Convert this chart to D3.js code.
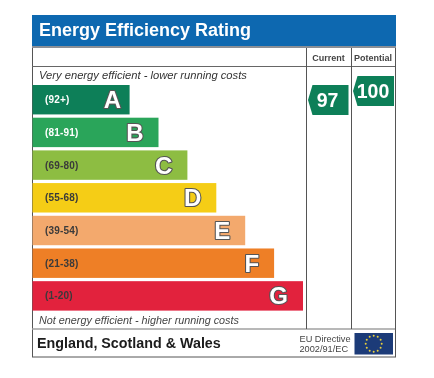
<!DOCTYPE html>
<html><head><meta charset="utf-8">
<script src="https://cdn.jsdelivr.net/npm/d3@7"></script>
<style>html,body{margin:0;padding:0;background:#fff}svg{display:block}text{font-family:"Liberation Sans",Arial,sans-serif}</style>
</head><body><svg id="c" width="434" height="378"></svg>
<script>
const bandLabels = ["(92+)","(81-91)","(69-80)","(55-68)","(39-54)","(21-38)","(1-20)"];
const bandLetters = ["A","B","C","D","E","F","G"];
const bandLengths = [1,2,3,4,5,6,7];
const bandColors = ["#0f7f58","#2ba55a","#8dbd43","#f5cd14","#f3a96d","#ee7f26","#e2213e"];
const labelColors = ["#fff","#fff","#3a3a3a","#3a3a3a","#3a3a3a","#3a3a3a","#3a3a3a"];
const scoreNames = ["Current","Potential"];
const scoreValues = [97,100];
const euStars = d3.range(12);

const svg = d3.select("#c");
const g = svg.append("g").attr("filter","url(#soft)");
svg.append("defs").append("filter").attr("id","soft").attr("x","-5%").attr("y","-5%").attr("width","110%").attr("height","110%")
  .append("feGaussianBlur").attr("stdDeviation",0.4);

const L=32,R=395,T=46,B=357,C1=306,C2=351;
const x = d3.scaleLinear().domain([1,7]).range([129.6,303]);
const y = d3.scaleBand().domain(bandLetters).range([85,310.6]).paddingInner(0.1).paddingOuter(0);
const yScore = d3.scaleLinear().domain([97,100]).range([100,91]);

// frame
g.append("rect").attr("x",L+.5).attr("y",T).attr("width",R-L).attr("height",B-T).attr("fill","#fff").attr("stroke","#555").attr("stroke-width",1);
g.append("rect").attr("x",L).attr("y",15).attr("width",R-L+1).attr("height",31).attr("fill","#0868b0");
g.append("rect").attr("x",L).attr("y",46).attr("width",R-L+1).attr("height",2).attr("fill","#8a8f96");
g.append("line").attr("x1",L).attr("x2",R).attr("y1",66.5).attr("y2",66.5).attr("stroke","#666");
g.append("line").attr("x1",L).attr("x2",R).attr("y1",329).attr("y2",329).attr("stroke","#a0a0a0").attr("stroke-width",1.5);
[C1,C2].forEach(c=>g.append("line").attr("x1",c+.5).attr("x2",c+.5).attr("y1",48).attr("y2",329).attr("stroke","#555"));

g.append("text").attr("x",39).attr("y",36).attr("fill","#fff").attr("font-weight","bold").attr("font-size",18).text("Energy Efficiency Rating");

// header labels
g.selectAll(".h").data(scoreNames).join("text").attr("class","h")
 .attr("x",d=>d==="Current"?C1+22.5:C2+22).attr("y",61).attr("text-anchor","middle")
 .attr("font-size",9).attr("font-weight","bold").attr("fill","#444").text(d=>d);

g.append("text").attr("x",39).attr("y",79).attr("font-size",11.2).attr("font-style","italic").attr("fill","#333").text("Very energy efficient - lower running costs");
g.append("text").attr("x",39).attr("y",323.5).attr("font-size",10.8).attr("font-style","italic").attr("fill","#444").text("Not energy efficient - higher running costs");

// bars
const rows = g.selectAll(".row").data(bandLetters).join("g").attr("class","row");
rows.append("rect").attr("x",L+.5).attr("y",d=>y(d)).attr("height",y.bandwidth())
  .attr("width",(d,i)=>x(bandLengths[i])-L-.5).attr("fill",(d,i)=>bandColors[i]);
rows.append("text").attr("x",45).attr("y",d=>y(d)+y.bandwidth()/2+3.5).attr("font-size",10).attr("font-weight","bold").attr("letter-spacing",0.2)
  .attr("fill",(d,i)=>labelColors[i]).text((d,i)=>bandLabels[i]);
rows.append("text").attr("text-anchor","end")
  .attr("x",(d,i)=>x(bandLengths[i])-(i===0?8.5:15)).attr("y",d=>y(d)+y.bandwidth()/2+8.5)
  .attr("font-size",24).attr("font-weight","bold").attr("fill","#fff").attr("stroke","#555").attr("stroke-width",2.2).attr("stroke-linejoin","round")
  .attr("paint-order","stroke").text(d=>d);

// score arrows
const arrow = d3.line();
scoreNames.forEach((n,i)=>{
  const cy = yScore(scoreValues[i]), x0 = i===0?C1+2:C2+2, x1 = i===0?348.5:394, h=15, t=4.5;
  g.append("path").attr("d",arrow([[x0,cy],[x0+t,cy-h],[x1,cy-h],[x1,cy+h],[x0+t,cy+h]])+"Z").attr("fill","#0f7f58");
  g.append("text").attr("x",i===0?327.5:373).attr("y",cy+7).attr("text-anchor","middle").attr("font-size",19.5).attr("font-weight","bold").attr("fill","#fff").text(scoreValues[i]);
});

// footer
g.append("text").attr("x",37).attr("y",348).attr("font-size",14.3).attr("font-weight","bold").attr("fill","#1a1a1a").text("England, Scotland & Wales");
g.append("text").attr("x",299.5).attr("y",341.5).attr("font-size",9.2).attr("fill","#444").text("EU Directive");
g.append("text").attr("x",299.5).attr("y",352).attr("font-size",9.2).attr("fill","#444").text("2002/91/EC");
g.append("rect").attr("x",354.5).attr("y",333).attr("width",38.5).attr("height",21.5).attr("fill","#1c3a78");
const ang = d3.scaleLinear().domain([0,12]).range([0,2*Math.PI]);
g.selectAll(".s").data(euStars).join("circle").attr("class","s").attr("r",1)
 .attr("cx",d=>373.7+8*Math.sin(ang(d))).attr("cy",d=>343.7-8*Math.cos(ang(d))).attr("fill","#e8cf3a");
</script></body></html>
